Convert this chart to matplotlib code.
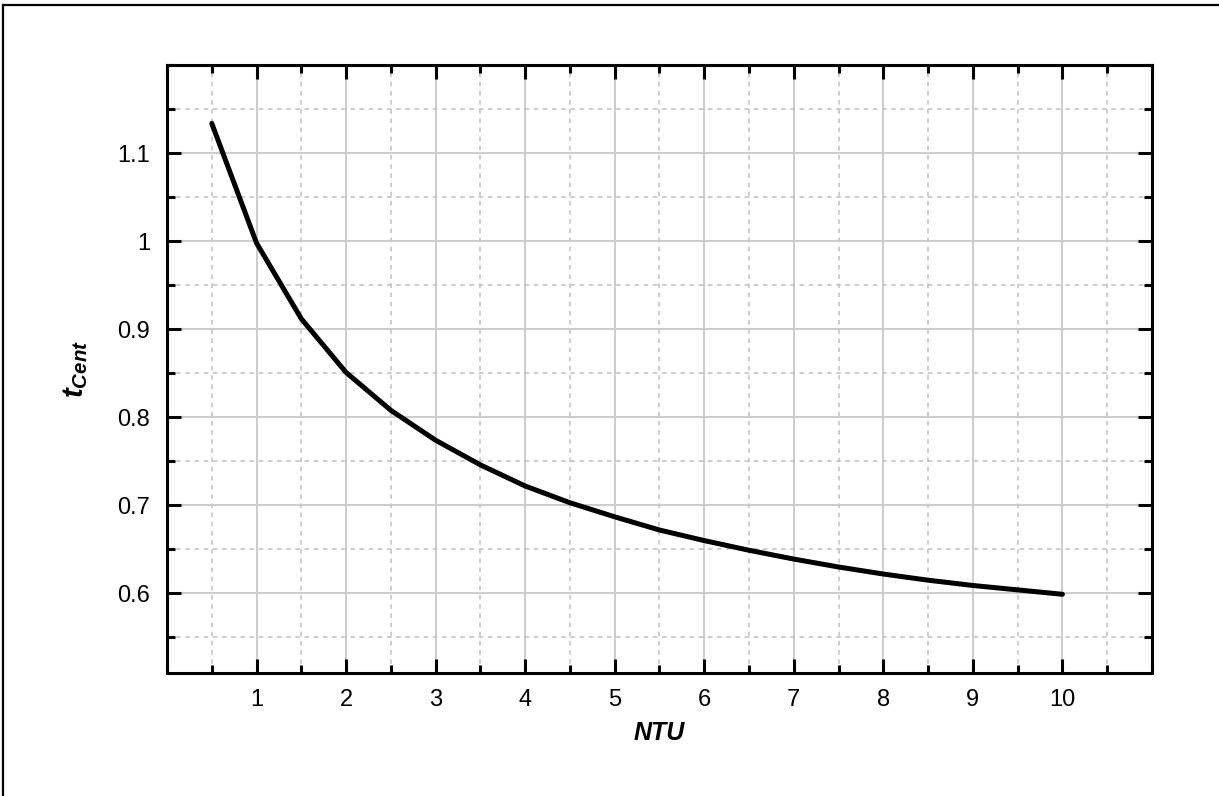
#!/usr/bin/env python3
# Centre temperature versus NTU, single curve on a gridded frame.
import matplotlib.pyplot as plt
from matplotlib.lines import Line2D
from matplotlib.ticker import MultipleLocator

plt.rcParams['font.family'] = ['Liberation Sans', 'DejaVu Sans']
plt.rcParams['mathtext.fontset'] = 'custom'
plt.rcParams['mathtext.bfit'] = 'Liberation Sans:bold:italic'
plt.rcParams['mathtext.it'] = 'Liberation Sans:italic'
plt.rcParams['mathtext.bf'] = 'Liberation Sans:bold'

ntu = [0.5, 1, 1.5, 2, 2.5, 3, 3.5, 4, 4.5, 5,
       5.5, 6, 6.5, 7, 7.5, 8, 8.5, 9, 9.5, 10]
t_cent = [1.134, 0.998, 0.912, 0.851, 0.808, 0.774, 0.746, 0.722, 0.703, 0.687,
          0.672, 0.660, 0.649, 0.639, 0.630, 0.622, 0.615, 0.609, 0.604, 0.599]
x_ticks = [1, 2, 3, 4, 5, 6, 7, 8, 9, 10]
y_ticks = [0.6, 0.7, 0.8, 0.9, 1.0, 1.1]
y_tick_labels = ['0.6', '0.7', '0.8', '0.9', '1', '1.1']


def main():
    fig = plt.figure(figsize=(12.19, 7.96), dpi=100)
    ax = fig.add_axes([0.137, 0.155, 0.808, 0.763])

    ax.plot(ntu, t_cent, color='black', lw=3.6, solid_capstyle='round', zorder=3)

    ax.set_xlim(0, 11)
    ax.set_ylim(0.51, 1.2)
    ax.set_xticks(x_ticks)
    ax.set_yticks(y_ticks)
    ax.set_yticklabels(y_tick_labels)
    ax.xaxis.set_minor_locator(MultipleLocator(0.5))
    ax.yaxis.set_minor_locator(MultipleLocator(0.05))

    ax.grid(which='major', color='#c8c8c8', lw=1.3, ls='-', zorder=0)
    ax.grid(which='minor', color='#c0c0c0', lw=1.1, ls=(0, (3, 3)), zorder=0)
    ax.set_axisbelow(True)

    ax.tick_params(which='both', direction='in', top=True, right=True,
                   labeltop=False, labelright=False, width=2.2, color='black')
    ax.tick_params(which='major', length=10, labelsize=17, pad=12)
    ax.tick_params(which='minor', length=6)
    for s in ax.spines.values():
        s.set_linewidth(2.2)

    ax.set_xlabel('NTU', fontsize=18, fontweight='bold', fontstyle='italic', labelpad=7)
    ax.set_ylabel(r'$\mathbfit{t}_{\mathbfit{Cent}}$', fontsize=21, labelpad=20)

    # outer frame, only top and left edges fall inside the image
    fig.add_artist(Line2D([0.0022, 1.0], [0.9935, 0.9935], transform=fig.transFigure,
                          color='black', lw=1.6))
    fig.add_artist(Line2D([0.0022, 0.0022], [0.0, 0.9935], transform=fig.transFigure,
                          color='black', lw=1.6))

    fig.savefig('out.png', dpi=100)


if __name__ == "__main__":
    main()
